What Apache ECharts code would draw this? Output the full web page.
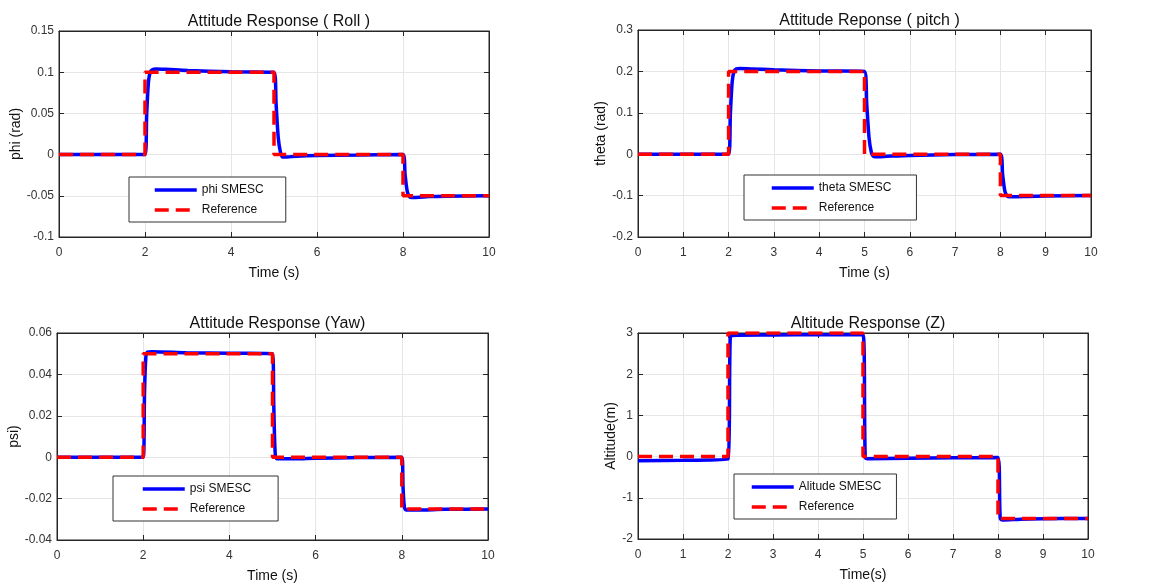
<!DOCTYPE html>
<html>
<head>
<meta charset="utf-8">
<title>Attitude / Altitude Response</title>
<script src="https://cdn.jsdelivr.net/npm/echarts@6/dist/echarts.min.js"></script>
<style>
  html, body { margin: 0; padding: 0; background: #fff; }
  #main { width: 1169px; height: 586px; }
</style>
</head>
<body>
<div id="main"></div>
<script>
// reference signals (step commands)
var refT = [0, 2, 2, 5, 5, 8, 8, 10];
var rollRef = [0, 0, 0.1, 0.1, 0, 0, -0.05, -0.05];
var pitchRef = [0, 0, 0.2, 0.2, 0, 0, -0.1, -0.1];
var yawRef = [0, 0, 0.05, 0.05, 0, 0, -0.025, -0.025];
var altRef = [0, 0, 3, 3, 0, 0, -1.5, -1.5];

// SMESC responses
var rollT = [0, 2, 2.04, 2.08, 2.12, 2.17, 2.25, 2.5, 3, 4, 5, 5.05, 5.1, 5.15, 5.2, 5.3, 5.5, 6, 7, 8, 8.05, 8.1, 8.15, 8.2, 8.3, 8.6, 9, 10];
var rollY = [0, 0, 0.05, 0.088, 0.1, 0.103, 0.104, 0.1035, 0.102, 0.1005, 0.1, 0.06, 0.02, 0.003, -0.003, -0.003, -0.002, -0.001, -0.0005, 0, -0.025, -0.045, -0.051, -0.052, -0.052, -0.051, -0.0505, -0.05];

var pitchT = [0, 2, 2.04, 2.08, 2.12, 2.17, 2.25, 2.5, 3, 4, 5, 5.05, 5.1, 5.15, 5.2, 5.3, 5.5, 6, 7, 8, 8.05, 8.1, 8.15, 8.2, 8.3, 8.6, 9, 10];
var pitchY = [0, 0, 0.1, 0.176, 0.2, 0.206, 0.207, 0.206, 0.204, 0.201, 0.2, 0.12, 0.04, 0.005, -0.005, -0.006, -0.005, -0.003, -0.001, 0, -0.05, -0.09, -0.101, -0.103, -0.103, -0.102, -0.101, -0.1];

var yawT = [0, 2, 2.03, 2.06, 2.1, 2.2, 3, 4, 5, 5.03, 5.06, 5.1, 5.5, 6, 7, 8, 8.03, 8.06, 8.1, 8.3, 9, 10];
var yawY = [0, 0, 0.03, 0.048, 0.0508, 0.051, 0.0505, 0.0502, 0.05, 0.025, 0.003, -0.0008, -0.0008, -0.0005, -0.0002, 0, -0.015, -0.024, -0.0255, -0.0255, -0.0252, -0.025];

var altT = [0, 1, 2, 2.05, 2.1, 3, 4, 5, 5.05, 5.1, 6, 7, 8, 8.05, 8.1, 8.5, 9, 10];
var altY = [-0.1, -0.09, -0.06, 2.9, 2.94, 2.95, 2.96, 2.96, -0.02, -0.05, -0.04, -0.03, -0.02, -1.5, -1.54, -1.52, -1.51, -1.5];

var titles = ['Attitude Response ( Roll )', 'Attitude Reponse ( pitch )', 'Attitude Response (Yaw)', 'Altitude Response (Z)'];
var yNames = ['phi (rad)', 'theta (rad)', 'psi)', 'Altitude(m)'];
var xNames = ['Time (s)', 'Time (s)', 'Time (s)', 'Time(s)'];
var smescNames = ['phi SMESC', 'theta SMESC', 'psi SMESC', 'Alitude SMESC'];
var yMin = [-0.1, -0.2, -0.04, -2];
var yMax = [0.15, 0.3, 0.06, 3];
var yStep = [0.05, 0.1, 0.02, 1];
var xStep = [2, 1, 2, 1];

var grids = [
    { left: 59, top: 31, width: 430, height: 206 },
    { left: 638, top: 30, width: 453, height: 207 },
    { left: 57, top: 333, width: 431, height: 207 },
    { left: 638, top: 333, width: 450, height: 206 }
];
var yNameGap = [34, 29, 34, 19];
var legendPos = [
    { left: 129, top: 177, padding: [7, 22, 6, 24] },
    { left: 744, top: 175, padding: [7, 25, 6, 26] },
    { left: 113, top: 476, padding: [7, 27, 6, 28] },
    { left: 734, top: 474, padding: [7, 15, 6, 16] }
];

var FONT = 'Liberation Sans, Arial, sans-serif';

function pairs(t, y) {
    var out = [];
    for (var i = 0; i < t.length; i++) {
        out.push([t[i], y[i]]);
    }
    return out;
}

var smescT = [rollT, pitchT, yawT, altT];
var smescY = [rollY, pitchY, yawY, altY];
var refY = [rollRef, pitchRef, yawRef, altRef];

var option = {
    backgroundColor: '#fff',
    animation: false,
    title: [],
    legend: [],
    grid: [],
    xAxis: [],
    yAxis: [],
    series: []
};

for (var k = 0; k < 4; k++) {
    var g = grids[k];
    option.grid.push({
        left: g.left, top: g.top, width: g.width, height: g.height,
        show: true, borderColor: '#262626', borderWidth: 1, backgroundColor: '#fff'
    });
    option.title.push({
        text: titles[k],
        left: g.left + g.width / 2,
        top: g.top - 22,
        textAlign: 'center',
        textStyle: { fontFamily: FONT, fontSize: 16, fontWeight: 'normal', color: '#111' }
    });
    // bottom x axis
    option.xAxis.push({
        type: 'value', gridIndex: k, min: 0, max: 10, interval: xStep[k],
        name: xNames[k], nameLocation: 'middle', nameGap: 29,
        nameTextStyle: { fontFamily: FONT, fontSize: 14, color: '#111' },
        axisLine: { onZero: false, lineStyle: { color: '#262626' } },
        axisTick: { inside: true, length: 5, lineStyle: { color: '#262626' } },
        axisLabel: { fontFamily: FONT, fontSize: 12, color: '#333', margin: 10 },
        splitLine: { show: true, lineStyle: { color: '#e6e6e6' } }
    });
    // top x axis (ticks only)
    option.xAxis.push({
        type: 'value', gridIndex: k, position: 'top', min: 0, max: 10, interval: xStep[k],
        axisLine: { onZero: false, lineStyle: { color: '#262626' } },
        axisTick: { inside: true, length: 5, lineStyle: { color: '#262626' } },
        axisLabel: { show: false },
        splitLine: { show: false }
    });
    option.yAxis.push({
        type: 'value', gridIndex: k, min: yMin[k], max: yMax[k], interval: yStep[k],
        name: yNames[k], nameLocation: 'middle', nameGap: yNameGap[k],
        nameTextStyle: { fontFamily: FONT, fontSize: 14, color: '#111' },
        axisLine: { onZero: false, lineStyle: { color: '#262626' } },
        axisTick: { inside: true, length: 5, lineStyle: { color: '#262626' } },
        axisLabel: { fontFamily: FONT, fontSize: 12, color: '#333', margin: 5 },
        splitLine: { show: true, lineStyle: { color: '#e6e6e6' } }
    });
    option.yAxis.push({
        type: 'value', gridIndex: k, position: 'right', min: yMin[k], max: yMax[k], interval: yStep[k],
        axisLine: { show: true, onZero: false, lineStyle: { color: '#262626' } },
        axisTick: { show: true, inside: true, length: 5, lineStyle: { color: '#262626' } },
        axisLabel: { show: false },
        splitLine: { show: false }
    });
    option.series.push({
        name: smescNames[k], type: 'line',
        xAxisIndex: 2 * k, yAxisIndex: 2 * k,
        data: pairs(smescT[k], smescY[k]),
        symbol: 'none', smooth: 0.3,
        lineStyle: { color: '#0000ff', width: 3.5 },
        itemStyle: { color: '#0000ff' }
    });
    option.series.push({
        name: 'Reference', type: 'line',
        xAxisIndex: 2 * k, yAxisIndex: 2 * k,
        data: pairs(refT, refY[k]),
        symbol: 'none',
        lineStyle: { color: '#ff0000', width: 3.5, type: [14, 7] },
        itemStyle: { color: '#ff0000' }
    });
    var lp = legendPos[k];
    option.legend.push({
        data: [smescNames[k], 'Reference'],
        orient: 'vertical',
        left: lp.left, top: lp.top, padding: lp.padding,
        itemWidth: 42, itemHeight: 14, itemGap: 8,
        itemStyle: { opacity: 0 },
        lineStyle: { width: 3.5 },
        backgroundColor: '#fff', borderColor: '#333', borderWidth: 1,
        selectedMode: false,
        textStyle: { fontFamily: FONT, fontSize: 12, color: '#111' }
    });
}

var chart = echarts.init(document.getElementById('main'));
chart.setOption(option);
</script>
</body>
</html>
